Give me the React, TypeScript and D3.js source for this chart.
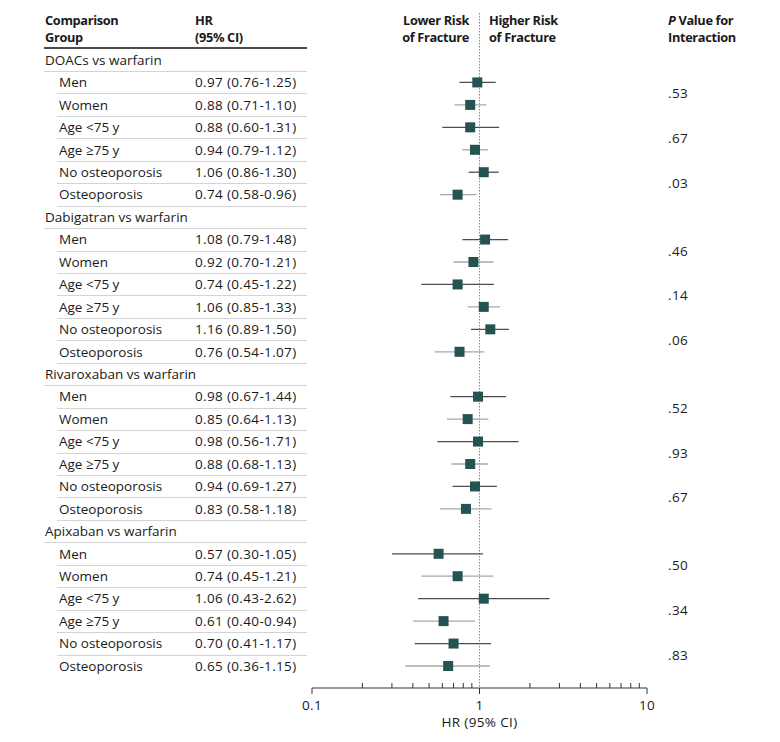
import { useRef, useEffect } from "react";
import * as d3 from "d3";

// groups and subgroups
const groups = ["DOACs vs warfarin", "Dabigatran vs warfarin", "Rivaroxaban vs warfarin", "Apixaban vs warfarin"];
const subgroups = ["Men", "Women", "Age <75 y", "Age \u226575 y", "No osteoporosis", "Osteoporosis"];

// HR and 95% CI per group, same order as subgroups
const hr = [
  [0.97, 0.88, 0.88, 0.94, 1.06, 0.74],
  [1.08, 0.92, 0.74, 1.06, 1.16, 0.76],
  [0.98, 0.85, 0.98, 0.88, 0.94, 0.83],
  [0.57, 0.74, 1.06, 0.61, 0.70, 0.65],
];
const ciLow = [
  [0.76, 0.71, 0.60, 0.79, 0.86, 0.58],
  [0.79, 0.70, 0.45, 0.85, 0.89, 0.54],
  [0.67, 0.64, 0.56, 0.68, 0.69, 0.58],
  [0.30, 0.45, 0.43, 0.40, 0.41, 0.36],
];
const ciHigh = [
  [1.25, 1.10, 1.31, 1.12, 1.30, 0.96],
  [1.48, 1.21, 1.22, 1.33, 1.50, 1.07],
  [1.44, 1.13, 1.71, 1.13, 1.27, 1.18],
  [1.05, 1.21, 2.62, 0.94, 1.17, 1.15],
];
// P value for interaction, one per subgroup pair
const pValues = [
  [".53", ".67", ".03"],
  [".46", ".14", ".06"],
  [".52", ".93", ".67"],
  [".50", ".34", ".83"],
];
const tickValues = [0.1, 1, 10];

const fmt = (v: number) => v.toFixed(2);

function App() {
  const svgRef = useRef<SVGSVGElement>(null);

  useEffect(() => {
    const w = 780;
    const h = 742;
    const svg = d3.select(svgRef.current).attr("width", w).attr("height", h);
    svg.selectAll("*").remove();

    const font = "'Open Sans', sans-serif";
    const ink = "#1a1a1a";
    const bodySize = 13.5;
    const bodySpacing = 0.35;

    // flatten rows: group header then its 6 subgroup rows
    type Row = { kind: "group" | "sub"; label: string; g: number; s: number };
    const rows: Row[] = [];
    groups.forEach((g, gi) => {
      rows.push({ kind: "group", label: g, g: gi, s: -1 });
      subgroups.forEach((s, si) => rows.push({ kind: "sub", label: s, g: gi, s: si }));
    });

    const y = d3.scaleLinear().domain([0, rows.length - 1]).range([60, 666]);
    const x = d3.scaleLog().domain([0.1, 10]).range([312, 647]);

    const colGroup = 45;
    const colSub = 59;
    const colHR = 195;
    const tableEnd = 307;
    const colP = 668;
    const axisY = 688;

    // header
    const header = svg.append("g")
      .attr("font-family", font)
      .attr("font-size", 12.8)
      .attr("font-weight", 700)
      .attr("letter-spacing", -0.35)
      .attr("fill", ink);
    const headLine = (tx: number, ty: number, t: string, anchor = "start") =>
      header.append("text").attr("x", tx).attr("y", ty).attr("text-anchor", anchor).text(t);
    headLine(colGroup, 25, "Comparison");
    headLine(colGroup, 42, "Group");
    headLine(colHR, 25, "HR");
    headLine(colHR, 42, "(95% CI)");
    headLine(469, 25, "Lower Risk", "end");
    headLine(469, 42, "of Fracture", "end");
    headLine(489, 25, "Higher Risk");
    headLine(489, 42, "of Fracture");
    const pv = header.append("text").attr("x", colP).attr("y", 25);
    pv.append("tspan").attr("font-style", "italic").text("P");
    pv.append("tspan").text(" Value for");
    headLine(colP, 42, "Interaction");

    svg.append("line")
      .attr("x1", 44).attr("x2", tableEnd)
      .attr("y1", 48).attr("y2", 48)
      .attr("stroke", "#111").attr("stroke-width", 1.3);

    // row separators
    svg.append("g")
      .selectAll("line")
      .data(rows.slice(0, rows.length - 1))
      .join("line")
      .attr("x1", (d) => (d.kind === "group" ? 44 : 57))
      .attr("x2", tableEnd)
      .attr("y1", (d, i) => Math.round(y(i) + 11) + 0.5)
      .attr("y2", (d, i) => Math.round(y(i) + 11) + 0.5)
      .attr("stroke", "#d4d4d4")
      .attr("stroke-width", 1);

    // row labels
    const labels = svg.append("g")
      .attr("font-family", font)
      .attr("font-size", bodySize)
      .attr("letter-spacing", bodySpacing)
      .attr("fill", ink);
    labels.selectAll("text.lab")
      .data(rows)
      .join("text")
      .attr("class", "lab")
      .attr("x", (d) => (d.kind === "group" ? colGroup : colSub))
      .attr("y", (d, i) => y(i))
      .attr("dy", "0.35em")
      .attr("letter-spacing", 0)
      .text((d) => d.label);

    const subRows = rows.map((d, i) => ({ ...d, i })).filter((d) => d.kind === "sub");
    labels.selectAll("text.hr")
      .data(subRows)
      .join("text")
      .attr("class", "hr")
      .attr("x", colHR)
      .attr("y", (d) => y(d.i))
      .attr("dy", "0.35em")
      .text((d) => `${fmt(hr[d.g][d.s])} (${fmt(ciLow[d.g][d.s])}-${fmt(ciHigh[d.g][d.s])})`);

    // p values between pair rows
    const pRows: { g: number; k: number; i: number }[] = [];
    subRows.forEach((d) => {
      if (d.s % 2 === 0) pRows.push({ g: d.g, k: d.s / 2, i: d.i });
    });
    labels.selectAll("text.p")
      .data(pRows)
      .join("text")
      .attr("class", "p")
      .attr("x", colP)
      .attr("y", (d) => (y(d.i) + y(d.i + 1)) / 2)
      .attr("dy", "0.35em")
      .text((d) => pValues[d.g][d.k]);

    // reference line at HR = 1
    svg.append("line")
      .attr("x1", x(1)).attr("x2", x(1))
      .attr("y1", 13).attr("y2", axisY)
      .attr("stroke", "#8a8a8a")
      .attr("stroke-width", 1)
      .attr("stroke-dasharray", "1.5,1.5");

    // CI whiskers
    svg.append("g")
      .selectAll("line")
      .data(subRows)
      .join("line")
      .attr("x1", (d) => x(ciLow[d.g][d.s]))
      .attr("x2", (d) => x(ciHigh[d.g][d.s]))
      .attr("y1", (d) => y(d.i))
      .attr("y2", (d) => y(d.i))
      .attr("stroke", (d) => (d.s % 2 === 0 ? "#4d4d4d" : "#a8a8a8"))
      .attr("stroke-width", 1.3);

    // point estimates
    const sz = 10;
    svg.append("g")
      .selectAll("rect")
      .data(subRows)
      .join("rect")
      .attr("x", (d) => x(hr[d.g][d.s]) - sz / 2)
      .attr("y", (d) => y(d.i) - sz / 2)
      .attr("width", sz)
      .attr("height", sz)
      .attr("fill", "#255352");

    // axis: major ticks down, minor ticks up
    const axis = svg.append("g")
      .attr("font-family", font)
      .attr("font-size", bodySize)
      .attr("letter-spacing", bodySpacing)
      .attr("fill", ink);
    axis.append("line")
      .attr("x1", x(0.1)).attr("x2", x(10))
      .attr("y1", axisY).attr("y2", axisY)
      .attr("stroke", "#333").attr("stroke-width", 1);
    const minor = x.ticks().filter((t) => !tickValues.includes(t));
    axis.selectAll("line.minor")
      .data(minor)
      .join("line")
      .attr("class", "minor")
      .attr("x1", (d) => x(d)).attr("x2", (d) => x(d))
      .attr("y1", axisY).attr("y2", axisY - 5)
      .attr("stroke", "#333");
    axis.selectAll("line.major")
      .data(tickValues)
      .join("line")
      .attr("class", "major")
      .attr("x1", (d) => x(d)).attr("x2", (d) => x(d))
      .attr("y1", axisY).attr("y2", axisY + 6)
      .attr("stroke", "#333");
    axis.selectAll("text.tick")
      .data(tickValues)
      .join("text")
      .attr("class", "tick")
      .attr("x", (d) => x(d))
      .attr("y", axisY + 17)
      .attr("dy", "0.35em")
      .attr("text-anchor", "middle")
      .text((d) => String(d));
    axis.append("text")
      .attr("x", x(1))
      .attr("y", axisY + 34)
      .attr("dy", "0.35em")
      .attr("text-anchor", "middle")
      .text("HR (95% CI)");
  }, []);

  return <svg ref={svgRef} style={{ position: "absolute", left: 0, top: 0, background: "#fff" }}></svg>;
}

export default App;
